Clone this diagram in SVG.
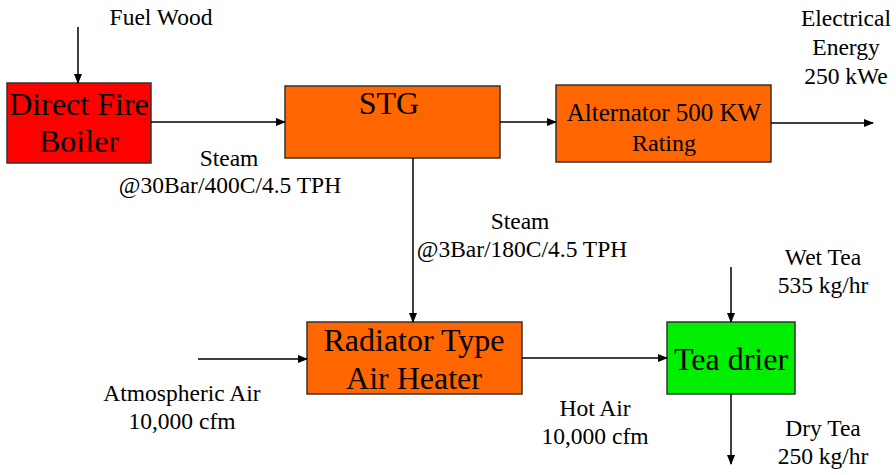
<svg xmlns="http://www.w3.org/2000/svg" width="896" height="475" viewBox="0 0 896 475">
<defs>
<marker id="ah" markerWidth="10" markerHeight="8" refX="9" refY="4" orient="auto" markerUnits="userSpaceOnUse">
<path d="M0,0 L10,4 L0,8 Z" fill="#000"/>
</marker>
<style>
.box{stroke:#333;stroke-width:1.5}
text{font-family:'Liberation Serif','Times New Roman',serif;fill:#000;text-anchor:middle}
.lbl{font-size:23.5px}
.big{font-size:32px}
.mid{font-size:25px}
.ln{stroke:#000;stroke-width:1.5;fill:none;marker-end:url(#ah)}
</style>
</defs>
<rect width="896" height="475" fill="#fff"/>
<g id="boiler">
<rect class="box" x="7" y="83" width="144" height="80" fill="#FF0000"/>
<text class="big" x="79" y="115">Direct Fire</text>
<text class="big" x="79" y="152">Boiler</text>
</g>
<g id="stg">
<rect class="box" x="285" y="86" width="215" height="72" fill="#FF6600"/>
<text class="big" x="389" y="114">STG</text>
</g>
<g id="alternator">
<rect class="box" x="556" y="85" width="215" height="77" fill="#FF6600"/>
<text class="mid" x="664" y="121">Alternator 500 KW</text>
<text class="mid" x="664" y="151" style="font-size:24px">Rating</text>
</g>
<g id="heater">
<rect class="box" x="307" y="322" width="215" height="72" fill="#FF6600"/>
<text class="big" x="414" y="351">Radiator Type</text>
<text class="big" x="414" y="389">Air Heater</text>
</g>
<g id="drier">
<rect class="box" x="667" y="322" width="128" height="72" fill="#00EE00"/>
<text class="big" x="731" y="370">Tea drier</text>
</g>
<g id="connectors">
<line class="ln" x1="78" y1="27" x2="78" y2="83"/>
<line class="ln" x1="151" y1="122" x2="285" y2="122"/>
<line class="ln" x1="500" y1="122" x2="556" y2="122"/>
<line class="ln" x1="771" y1="123" x2="873" y2="123"/>
<line class="ln" x1="413" y1="158" x2="413" y2="322"/>
<line class="ln" x1="198" y1="359" x2="307" y2="359"/>
<line class="ln" x1="522" y1="358" x2="667" y2="358"/>
<line class="ln" x1="731" y1="267" x2="731" y2="322"/>
<line class="ln" x1="731" y1="394" x2="731" y2="464"/>
</g>
<g id="labels">
<text class="lbl" x="161" y="25">Fuel Wood</text>
<text class="lbl" x="846" y="26">Electrical</text>
<text class="lbl" x="846" y="55">Energy</text>
<text class="lbl" x="846" y="84">250 kWe</text>
<text class="lbl" x="229" y="166">Steam</text>
<text class="lbl" x="230" y="193">@30Bar/400C/4.5 TPH</text>
<text class="lbl" x="520" y="229">Steam</text>
<text class="lbl" x="522" y="257">@3Bar/180C/4.5 TPH</text>
<text class="lbl" x="823" y="265">Wet Tea</text>
<text class="lbl" x="823" y="293">535 kg/hr</text>
<text class="lbl" x="182" y="401">Atmospheric Air</text>
<text class="lbl" x="182" y="429">10,000 cfm</text>
<text class="lbl" x="595" y="416">Hot Air</text>
<text class="lbl" x="595" y="444">10,000 cfm</text>
<text class="lbl" x="823" y="436">Dry Tea</text>
<text class="lbl" x="823" y="464">250 kg/hr</text>
</g>
</svg>
